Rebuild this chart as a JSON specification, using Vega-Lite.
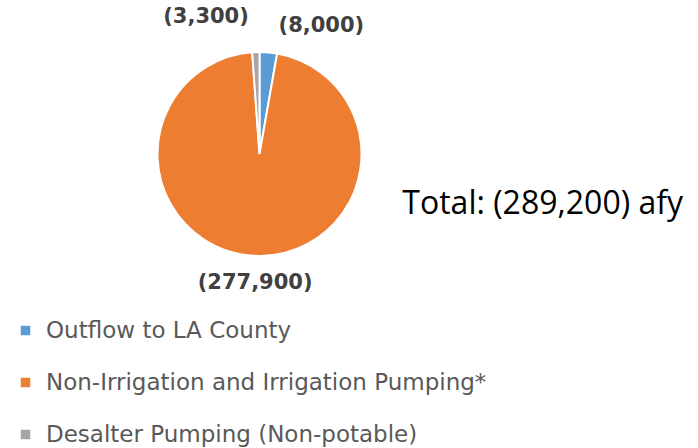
{
  "$schema": "https://vega.github.io/schema/vega-lite/v6.json",
  "width": 519,
  "height": 308,
  "autosize": {"type": "none"},
  "padding": {"left": 0, "top": 0, "right": 179, "bottom": 140},
  "background": "white",
  "title": {"text": "Total: (289,200) afy", "orient": "top", "anchor": "end", "frame": "group", "font": "Open Sans", "fontSize": 32, "fontWeight": "normal", "color": "#000000", "dx": 164, "dy": 225},
  "config": {"view": {"stroke": null}},
  "data": {"values": [
    {"cat": "Outflow to LA County", "value": 8000, "ord": 1, "label": "(8,000)"},
    {"cat": "Non-Irrigation and Irrigation Pumping*", "value": 277900, "ord": 2, "label": "(277,900)"},
    {"cat": "Desalter Pumping (Non-potable)", "value": 3300, "ord": 3, "label": "(3,300)"}
  ]},
  "encoding": {
    "theta": {"field": "value", "type": "quantitative", "stack": true},
    "order": {"field": "ord", "type": "quantitative"}
  },
  "layer": [
    {
      "mark": {"type": "arc", "outerRadius": 102, "stroke": "white", "strokeWidth": 2},
      "encoding": {
        "color": {"field": "cat", "type": "nominal",
          "scale": {"domain": ["Outflow to LA County", "Non-Irrigation and Irrigation Pumping*", "Desalter Pumping (Non-potable)"], "range": ["#5B9BD5", "#ED7D31", "#A5A5A5"]},
          "legend": {"orient": "none", "legendX": 14, "legendY": 319, "title": null, "symbolType": "square", "symbolSize": 90, "symbolStrokeWidth": 0, "labelFont": "DejaVu Sans", "labelFontSize": 23, "labelColor": "#595959", "rowPadding": 28, "labelOffset": 9, "labelLimit": 600}
        }
      }
    },
    {
      "mark": {"type": "text", "radius": 125, "font": "DejaVu Sans", "fontSize": 21, "fontWeight": "bold", "fill": "#404040", "align": "center", "baseline": "middle", "dx": 51, "dy": -3},
      "encoding": {"text": {"condition": {"test": "datum.ord === 1", "field": "label"}, "value": ""}}
    },
    {
      "mark": {"type": "text", "radius": 125, "font": "DejaVu Sans", "fontSize": 21, "fontWeight": "bold", "fill": "#404040", "align": "center", "baseline": "middle", "dx": 2, "dy": 4},
      "encoding": {"text": {"condition": {"test": "datum.ord === 2", "field": "label"}, "value": ""}}
    },
    {
      "mark": {"type": "text", "radius": 125, "font": "DejaVu Sans", "fontSize": 21, "fontWeight": "bold", "fill": "#404040", "align": "center", "baseline": "middle", "dx": -49, "dy": -12},
      "encoding": {"text": {"condition": {"test": "datum.ord === 3", "field": "label"}, "value": ""}}
    }
  ]
}
